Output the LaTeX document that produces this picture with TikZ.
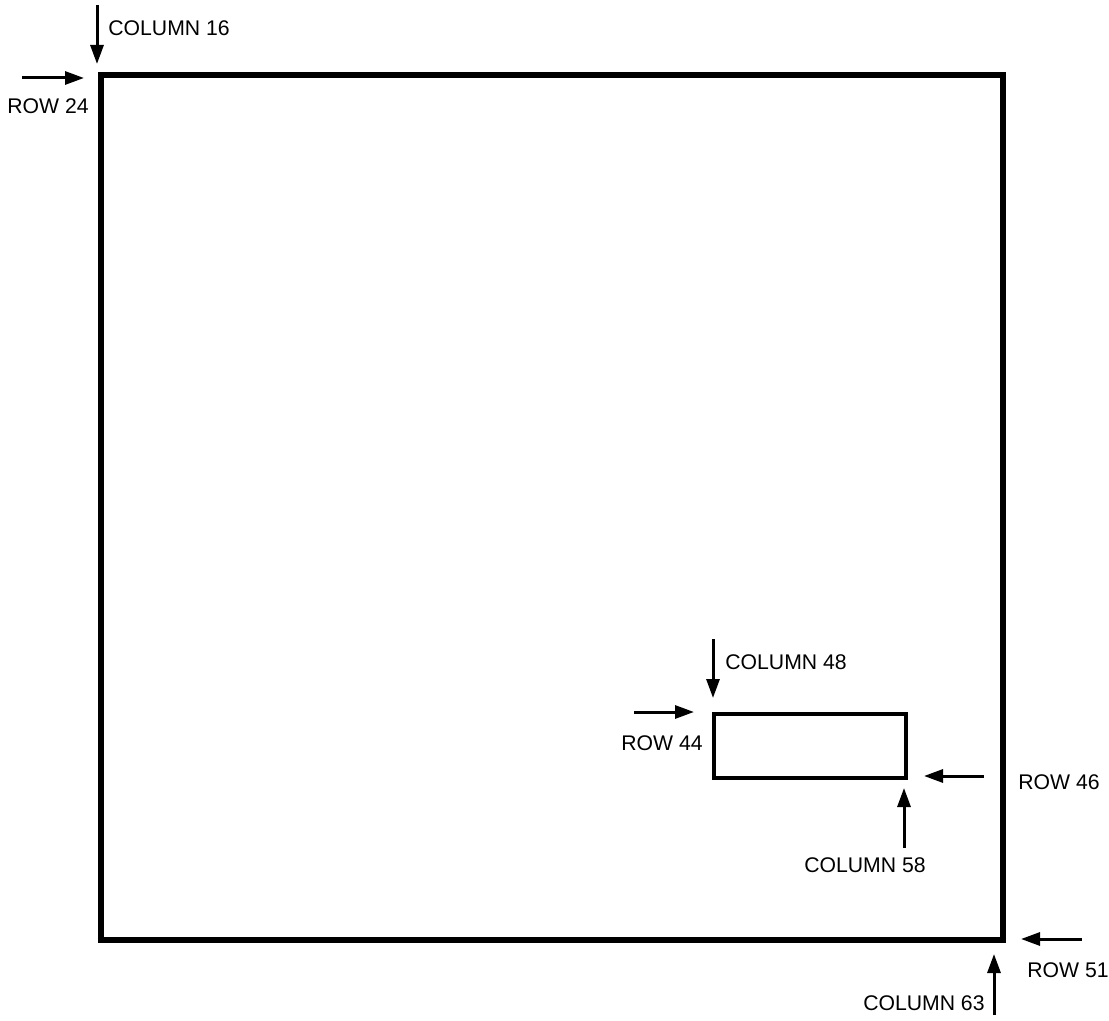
\documentclass[tikz,border=0pt]{standalone}
\usepackage{fontspec}
\setmainfont{Liberation Sans}
\usetikzlibrary{arrows.meta}
\begin{document}
\begin{tikzpicture}[x=0.5pt,y=-0.5pt,
  ptr/.style={line width=1.5pt,-{Triangle[length=9.5pt,width=6.5pt]}},
  lbl/.style={inner sep=0pt,font=\fontsize{10.6}{12}\selectfont}]
\useasboundingbox (0,0) rectangle (1109,1021);
% outer frame
\draw[line width=3.3pt] (101,75) rectangle (1003,940);
% inner box
\draw[line width=2.2pt] (714,714) rectangle (906,778);
% top-left
\coordinate (c16a) at (97,5); \coordinate (c16b) at (97,64);
\draw[ptr] (c16a) -- (c16b);
\node[lbl,anchor=west] (c16) at (108,28) {COLUMN 16};
\coordinate (r24a) at (22,78); \coordinate (r24b) at (84,78);
\draw[ptr] (r24a) -- (r24b);
\node[lbl,anchor=east] (r24) at (89,106) {ROW 24};
% inner top-left
\coordinate (c48a) at (713,639); \coordinate (c48b) at (713,698);
\draw[ptr] (c48a) -- (c48b);
\node[lbl,anchor=west] (c48) at (725,662) {COLUMN 48};
\coordinate (r44a) at (634,712); \coordinate (r44b) at (694,712);
\draw[ptr] (r44a) -- (r44b);
\node[lbl,anchor=east] (r44) at (703,743) {ROW 44};
% inner bottom-right
\coordinate (r46a) at (984,776); \coordinate (r46b) at (924,776);
\draw[ptr] (r46a) -- (r46b);
\node[lbl,anchor=west] (r46) at (1018,782) {ROW 46};
\coordinate (c58a) at (904,848); \coordinate (c58b) at (904,788);
\draw[ptr] (c58a) -- (c58b);
\node[lbl] (c58) at (865,865) {COLUMN 58};
% outer bottom-right
\coordinate (r51a) at (1082,939); \coordinate (r51b) at (1021,939);
\draw[ptr] (r51a) -- (r51b);
\node[lbl,anchor=west] (r51) at (1027,970) {ROW 51};
\coordinate (c63a) at (994,1015); \coordinate (c63b) at (994,954);
\draw[ptr] (c63a) -- (c63b);
\node[lbl,anchor=east] (c63) at (985,1003) {COLUMN 63};
\end{tikzpicture}
\end{document}
